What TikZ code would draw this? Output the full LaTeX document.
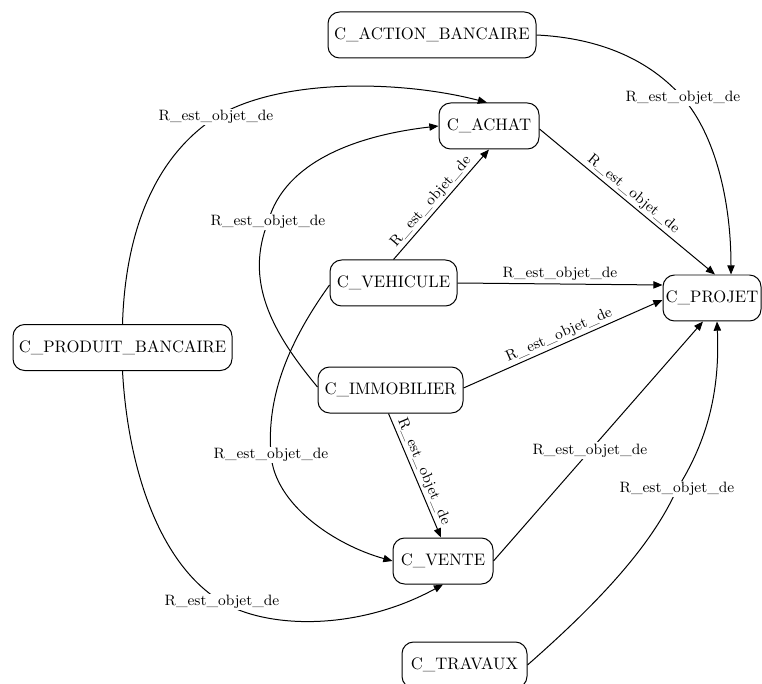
\documentclass[tikz,border=0pt]{standalone}
\usetikzlibrary{arrows.meta,calc}
\begin{document}
\begin{tikzpicture}[x=0.6pt,y=-0.6pt,
  cls/.style={draw, rounded corners=7pt, minimum height=27.6pt, inner sep=0pt, line width=0.6pt, font=\normalsize},
  rel/.style={line width=0.6pt, -{Triangle[length=5.5pt,width=4.4pt]}},
  lbl/.style={font=\small, inner sep=1.5pt},
  lblw/.style={lbl, fill=white, inner sep=1pt}]
\useasboundingbox (0,0) rectangle (762,684);
\node[cls, minimum width=124.8pt] (act) at (432,35) {C\_ACTION\_BANCAIRE};
\node[cls, minimum width=60pt] (ach) at (489,126) {C\_ACHAT};
\node[cls, minimum width=76.2pt] (veh) at (393.5,283) {C\_VEHICULE};
\node[cls, minimum width=58.8pt] (prj) at (712,298) {C\_PROJET};
\node[cls, minimum width=131.4pt] (pro) at (122.5,347.5) {C\_PRODUIT\_BANCAIRE};
\node[cls, minimum width=87pt] (imm) at (390.5,390) {C\_IMMOBILIER};
\node[cls, minimum width=60pt] (ven) at (443,561) {C\_VENTE};
\node[cls, minimum width=75pt] (tra) at (464.5,665) {C\_TRAVAUX};

% ACTION -> PROJET
\draw[rel] (act.east) .. controls (600,38) and (650,60) .. (683,98) node[lblw]{R\_est\_objet\_de}
  .. controls (715,135) and (731,200) .. ($(prj.north)+(19,0)$);
% PRODUIT -> ACHAT
\draw[rel] (pro.north) .. controls (125,240) and (150,160) .. (216,117) node[lblw]{R\_est\_objet\_de}
  .. controls (280,78) and (400,80) .. ($(ach.north)+(-2,0)$);
% IMMOBILIER -> ACHAT
\draw[rel] ($(imm.west)+(0,-3)$) .. controls (270,330) and (245,280) .. (268,222) node[lblw]{R\_est\_objet\_de}
  .. controls (285,160) and (360,135) .. (ach.west);
% VEHICULE -> ACHAT
\draw[rel] (veh.north) -- node[lbl, sloped, above, pos=0.47]{R\_est\_objet\_de} (ach.south);
% ACHAT -> PROJET
\draw[rel] ($(ach.east)+(0,3)$) -- node[lbl, sloped, above]{R\_est\_objet\_de} ($(prj.north)+(3,0)$);
% VEHICULE -> PROJET
\draw[rel] (veh.east) -- node[lbl, above]{R\_est\_objet\_de} ($(prj.west)+(0,-13)$);
% IMMOBILIER -> PROJET
\draw[rel] ($(imm.east)+(0,-2)$) -- node[lbl, sloped, above]{R\_est\_objet\_de} ($(prj.west)+(0,2)$);
% VEHICULE -> VENTE
\draw[rel] ($(veh.west)+(0,2)$) .. controls (290,340) and (266,395) .. (271,455) node[lblw]{R\_est\_objet\_de}
  .. controls (275,505) and (335,545) .. (ven.west);
% IMMOBILIER -> VENTE
\draw[rel] ($(imm.south)+(-2,0)$) -- node[lbl, sloped, above]{R\_est\_objet\_de} ($(ven.north)+(-2,0)$);
% PRODUIT -> VENTE
\draw[rel] (pro.south) .. controls (128,470) and (160,565) .. (222,602) node[lblw]{R\_est\_objet\_de}
  .. controls (270,630) and (360,630) .. (ven.south);
% VENTE -> PROJET
\draw[rel] (ven.east) -- node[lblw, pos=0.46]{R\_est\_objet\_de} ($(prj.south)+(-9,0)$);
% TRAVAUX -> PROJET
\draw[rel] (tra.east) .. controls (590,610) and (650,550) .. (677,489) node[lblw]{R\_est\_objet\_de}
  .. controls (708,440) and (720,390) .. ($(prj.south)+(5,0)$);
\end{tikzpicture}
\end{document}
